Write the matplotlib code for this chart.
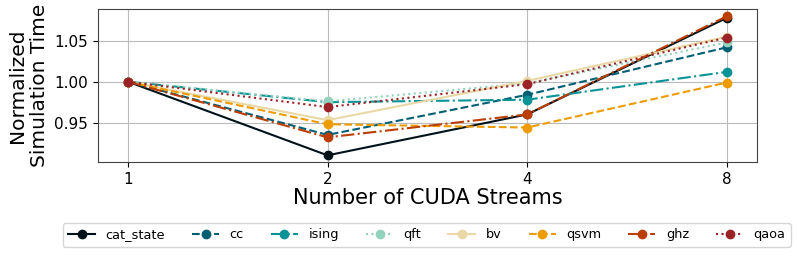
import matplotlib
matplotlib.use("Agg")
import matplotlib.pyplot as plt

plt.rcParams.update({
    "font.family": "DejaVu Sans",
    "axes.edgecolor": "#444444",
})

streams = [1, 2, 4, 8]
circuits = ["cat_state", "cc", "ising", "qft", "bv", "qsvm", "ghz", "qaoa"]
colors = ["#001219", "#005f73", "#0a9396", "#94d2bd", "#e9d8a6", "#ee9b00", "#bb3e03", "#9b2226"]
styles = ["-", "--", "-.", ":", "-", "--", "-.", ":"]

cat_state = [1.0, 0.910, 0.960, 1.078]
cc = [1.0, 0.935, 0.984, 1.042]
ising = [1.0, 0.975, 0.978, 1.012]
qft = [1.0, 0.976, 0.998, 1.048]
bv = [1.0, 0.953, 1.001, 1.055]
qsvm = [1.0, 0.948, 0.944, 0.999]
ghz = [1.0, 0.932, 0.960, 1.080]
qaoa = [1.0, 0.969, 0.997, 1.054]
values = [cat_state, cc, ising, qft, bv, qsvm, ghz, qaoa]

fig = plt.figure(figsize=(7.97, 2.56), dpi=100)
ax = fig.add_axes([0.123, 0.366, 0.8264, 0.5977])

for name, vals, c, ls in zip(circuits, values, colors, styles):
    ax.plot(streams, vals, linestyle=ls, marker="o", color=c, label=name,
            linewidth=1.5, markersize=6)

ax.set_xscale("log", base=2)
ax.set_xticks(streams)
ax.set_xticklabels([str(s) for s in streams])
ax.minorticks_off()
ax.set_yticks([0.95, 1.00, 1.05])
ax.tick_params(labelsize=11)
ax.grid(True, color="#bbbbbb", linewidth=0.8)
ax.set_axisbelow(True)
ax.set_xlabel("Number of CUDA Streams", fontsize=15, labelpad=1)
ax.set_ylabel("Normalized\nSimulation Time", fontsize=14.5, labelpad=4)

ax.legend(loc="center", bbox_to_anchor=(0.499, -0.475), ncol=8, fontsize=9.3,
          handlelength=2.1, columnspacing=2.1, frameon=True)

fig.savefig("out.png", dpi=100)
